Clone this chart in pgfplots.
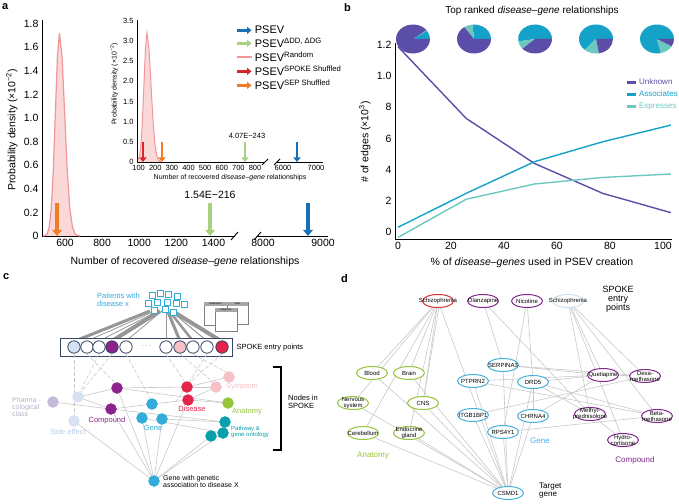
\documentclass[border=0pt]{standalone}
\usepackage{pgfplots}
\pgfplotsset{compat=1.18}
\usepackage{fontspec}
\setmainfont{Liberation Sans}
\setsansfont{Liberation Sans}
\usetikzlibrary{arrows.meta}

\definecolor{colBlue}{RGB}{26,110,178}
\definecolor{colGreen}{RGB}{166,210,126}
\definecolor{colRndLine}{RGB}{240,150,152}
\definecolor{colRndFill}{RGB}{251,216,216}
\definecolor{colRed}{RGB}{214,38,46}
\definecolor{colOrange}{RGB}{240,124,40}
\definecolor{colUnk}{RGB}{90,78,168}
\definecolor{colAssoc}{RGB}{20,162,200}
\definecolor{colExpr}{RGB}{108,200,190}
\definecolor{cCyan}{RGB}{52,172,218}
\definecolor{cPurple}{RGB}{140,34,140}
\definecolor{cRed}{RGB}{228,36,74}
\definecolor{cPink}{RGB}{246,192,198}
\definecolor{cGreen}{RGB}{150,196,60}
\definecolor{cTeal}{RGB}{8,160,170}
\definecolor{cLightBlue}{RGB}{214,226,242}
\definecolor{cLightBlueTxt}{RGB}{184,204,230}
\definecolor{cLav}{RGB}{196,186,218}
\definecolor{cNavy}{RGB}{55,70,100}
\definecolor{edgegray}{RGB}{200,200,200}
\definecolor{fangray}{RGB}{150,150,150}
\definecolor{dGreen}{RGB}{150,196,60}
\definecolor{dCyan}{RGB}{70,178,218}
\definecolor{dPurple}{RGB}{128,40,140}
\definecolor{dRed}{RGB}{222,50,50}
\definecolor{dLight}{RGB}{205,225,240}

\newcommand{\fs}[1]{\fontsize{#1}{#1}\selectfont}
\pgfdeclareplotmark{ell}{%
  \pgfpathellipse{\pgfpointorigin}{\pgfqpoint{15.5pt}{0pt}}{\pgfqpoint{0pt}{6.5pt}}%
  \pgfusepathqfillstroke}

\tikzset{
  bigarr/.style={line width=3.6pt,-{Triangle[length=6pt,width=9.5pt]}},
  smallarr/.style={line width=2.6pt,-{Triangle[length=4.5pt,width=7pt]}},
  edged/.style={edgegray, dash pattern=on 4pt off 2pt},
}
\pgfplotsset{
  panel/.style={scale only axis, anchor=south west, clip=false,
    axis x line=bottom, axis y line=left,
    every outer x axis line/.append style={-},
    every outer y axis line/.append style={-},
    axis line style={line width=0.9pt},
    major tick length=0pt,
    /pgf/number format/assume math mode=true,
    /pgf/number format/1000 sep={},
    tick label style={font=\fs{10.5}}},
  overlay/.style={at={(0pt,0pt)}, anchor=south west, scale only axis,
    width=679pt, height=503pt, xmin=0, xmax=679, ymin=0, ymax=503,
    y dir=reverse, hide axis, clip=false},
}
% one edge of a network diagram
\newcommand{\segm}[5][edgegray]{\addplot[#1, line width=0.6pt] coordinates {(#2,#3)(#4,#5)};}
% name inside a panel-d node
\newcommand{\dn}[3]{\node[font=\fs{6}, align=center, inner sep=0pt] at (#1,#2) {#3};}
% pie: cyan 0..#3, teal #3..#4, purple #4..360
\newcommand{\pie}[4]{%
  \fill[colAssoc] (axis cs:#1,#2) -- ++(0:17pt and 14.5pt) arc[start angle=0,end angle=#3,x radius=17pt,y radius=14.5pt] -- cycle;
  \fill[colExpr] (axis cs:#1,#2) -- ++(#3:17pt and 14.5pt) arc[start angle=#3,end angle=#4,x radius=17pt,y radius=14.5pt] -- cycle;
  \fill[colUnk] (axis cs:#1,#2) -- ++(#4:17pt and 14.5pt) arc[start angle=#4,end angle=360,x radius=17pt,y radius=14.5pt] -- cycle;}

\begin{document}
\begin{tikzpicture}
\path[use as bounding box] (0pt,0pt) rectangle (679pt,503pt);

%% ---------- panel a, main axis (left part)
\begin{axis}[panel, at={(42pt,267pt)}, width=193pt, height=216pt,
  xmin=476, xmax=1516, ymin=0, ymax=1.83,
  xtick={600,800,1000,1200,1400},
  ytick={0,0.2,0.4,0.6,0.8,1,1.2,1.4,1.6,1.8},
  yticklabels={0,0.2,0.4,0.6,0.8,1.0,1.2,1.4,1.6,1.8}]
\addplot[fill=colRndFill, draw=none] coordinates {
  (482,0)(493,0.004)(504,0.019)(515,0.076)(526,0.233)(537,0.558)(548,1.043)(559,1.518)(570,1.72)
  (584,1.518)(598,1.043)(612,0.558)(626,0.233)(640,0.076)(654,0.019)(668,0.004)(682,0)} \closedcycle;
\addplot[colRndLine, line width=1.2pt] coordinates {
  (482,0)(493,0.004)(504,0.019)(515,0.076)(526,0.233)(537,0.558)(548,1.043)(559,1.518)(570,1.72)
  (584,1.518)(598,1.043)(612,0.558)(626,0.233)(640,0.076)(654,0.019)(668,0.004)(682,0)};
\addplot[colOrange, bigarr] coordinates {(557,0.28)(557,0)};
\addplot[colGreen, bigarr] coordinates {(1382,0.28)(1382,0)};
\end{axis}

%% ---------- panel a, main axis (right part)
\begin{axis}[panel, axis y line=none, at={(257pt,267pt)}, width=71pt, height=216pt,
  xmin=7900, xmax=9083, ymin=0, ymax=1.83, xtick={8000,9000}]
\addplot[colBlue, bigarr] coordinates {(8750,0.28)(8750,0)};
\end{axis}

%% ---------- panel a, inset (left part) + legend
\begin{axis}[panel, at={(137pt,341pt)}, width=128pt, height=142pt,
  xmin=90, xmax=860, ymin=0, ymax=3.52,
  xtick={100,200,300,400,500,600,700,800},
  ytick={0,0.5,1,1.5,2,2.5,3,3.5},
  yticklabels={0,0.5,1.0,1.5,2.0,2.5,3.0,3.5},
  tick label style={font=\fs{7.5}},
  legend style={at={(0.766,0.975)}, anchor=north west, draw=none, fill=none,
    font=\fs{11}, inner sep=0pt, row sep=-1pt, cells={anchor=west}},
  legend image code/.code={\draw[#1] (0pt,0pt) -- (15pt,0pt);}]
\addplot[fill=colRndFill, draw=none, forget plot] coordinates {
  (96,0.035)(105,0.14)(114,0.433)(123,1.039)(132,1.941)(141,2.824)(150,3.2)
  (162,2.824)(174,1.941)(186,1.039)(198,0.433)(210,0.14)(222,0.035)(234,0.007)} \closedcycle;
\addplot[colRndLine, line width=1pt, forget plot] coordinates {
  (96,0.035)(105,0.14)(114,0.433)(123,1.039)(132,1.941)(141,2.824)(150,3.2)
  (162,2.824)(174,1.941)(186,1.039)(198,0.433)(210,0.14)(222,0.035)(234,0.007)};
\addplot[colRed, smallarr, forget plot] coordinates {(126,0.5)(126,0)};
\addplot[colOrange, smallarr, forget plot] coordinates {(240,0.5)(240,0)};
\addplot[colGreen, smallarr, forget plot] coordinates {(740,0.5)(740,0)};
\addlegendimage{colBlue, smallarr}
\addlegendentry{PSEV}
\addlegendimage{colGreen, smallarr}
\addlegendentry{PSEV\textsuperscript{ΔDD, ΔDG}}
\addlegendimage{colRndLine, line width=2pt}
\addlegendentry{PSEV\textsuperscript{Random}}
\addlegendimage{colRed, smallarr}
\addlegendentry{PSEV\textsuperscript{SPOKE Shuffled}}
\addlegendimage{colOrange, smallarr}
\addlegendentry{PSEV\textsuperscript{SEP Shuffled}}
\end{axis}

%% ---------- panel a, inset (right part)
\begin{axis}[panel, axis y line=none, at={(277pt,341pt)}, width=46pt, height=142pt,
  xmin=5818, xmax=7212, ymin=0, ymax=3.52, xtick={6000,7000},
  tick label style={font=\fs{7.5}}]
\addplot[colBlue, smallarr] coordinates {(6424,0.5)(6424,0)};
\end{axis}

%% ---------- panel b
\begin{axis}[panel, at={(395pt,264pt)}, width=277pt, height=196pt,
  xmin=-1.1, xmax=103.4, ymin=-0.45, ymax=12.13,
  xtick={0,20,40,60,80,100}, ytick={0,2,4,6,8,10,12},
  yticklabels={0,2,4,6,8,1.0,1.2},
  legend style={at={(0.83,0.827)}, anchor=north west, draw=none, fill=none,
    font=\fs{8}, inner sep=0pt, row sep=0.5pt, cells={anchor=west}},
  legend image code/.code={\draw[#1, line width=3pt] (0pt,0pt) -- (9pt,0pt);}]
\addplot[colUnk, line width=1.4pt] coordinates {(0,11.9)(25.75,7.29)(51.5,4.4)(77.25,2.48)(103,1.24)};
\addlegendentry{\textcolor{colUnk}{Unknown}}
\addplot[colAssoc, line width=1.4pt] coordinates {(0,0.3)(25.75,2.48)(51.5,4.51)(77.25,5.79)(103,6.86)};
\addlegendentry{\textcolor{colAssoc}{Associates}}
\addplot[colExpr, line width=1.4pt] coordinates {(0,-0.35)(25.75,2.1)(51.5,3.08)(77.25,3.5)(103,3.72)};
\addlegendentry{\textcolor{colExpr}{Expresses}}
\end{axis}

%% ---------- overlay in pixel coordinates: labels, pies, panels c and d
\begin{axis}[overlay]
% panel letters
\node[anchor=north west, font=\bfseries\fs{11}, inner sep=0pt] at (2,3) {a};
\node[anchor=north west, font=\bfseries\fs{11}, inner sep=0pt] at (344,3) {b};
\node[anchor=north west, font=\bfseries\fs{11}, inner sep=0pt] at (3,273) {c};
\node[anchor=north west, font=\bfseries\fs{11}, inner sep=0pt] at (341,274) {d};

% panel a texts
\node[rotate=90, font=\fs{10.5}] at (12,130) {Probability density (×10\textsuperscript{−2})};
\node[font=\fs{10.5}] at (185,262) {Number of recovered \textit{disease–gene} relationships};
\node[rotate=90, font=\fs{7}] at (114,84) {Probability density (×10\textsuperscript{−2})};
\node[font=\fs{7}] at (230,178) {Number of recovered \textit{disease–gene} relationships};
\node[font=\fs{10.5}] at (210,195) {1.54E−216};
\node[font=\fs{7.5}] at (247,136) {4.07E−243};
% axis breaks
\draw[line width=0.9pt] (231,240) -- (238,232);
\draw[line width=0.9pt] (254,240) -- (261,232);
\draw[line width=0.8pt] (262,165) -- (268,159);
\draw[line width=0.8pt] (274,165) -- (280,159);

% panel b texts and pies
\node[font=\fs{10}] at (532,11) {Top ranked \textit{disease–gene} relationships};
\node[rotate=90, font=\fs{10.5}] at (365,142) {\# of edges (×10\textsuperscript{3})};
\node[font=\fs{10.5}] at (532,263) {\% of \textit{disease–genes} used in PSEV creation};
\pie{413}{39}{35}{38}
\pie{474}{39}{95}{125}
\pie{535}{39}{190}{222}
\pie{596}{39}{228}{280}
\pie{657}{39}{283}{330}

%% ----- panel c
% patients -> entry points
\addplot[fangray, line width=3pt] coordinates {(150,311)(75,341)};
\addplot[fangray, line width=0.8pt] coordinates {(155,311)(87,341)};
\addplot[fangray, line width=0.8pt] coordinates {(158,311)(99,341)};
\addplot[fangray, line width=4pt] coordinates {(160,311)(112,341)};
\addplot[fangray, line width=0.8pt] coordinates {(162,311)(126,341)};
\addplot[fangray, line width=0.8pt] coordinates {(166,312)(166,341)};
\addplot[fangray, line width=3pt] coordinates {(168,312)(180,341)};
\addplot[fangray, line width=2.5pt] coordinates {(170,312)(193,341)};
\addplot[fangray, line width=1pt] coordinates {(172,312)(207,341)};
\addplot[fangray, line width=4pt] coordinates {(174,312)(221,341)};
\addplot[only marks, mark=square*, mark size=3pt, mark options={draw=cCyan, fill=white, line width=0.8pt}]
  coordinates {(152,295)(160,293)(168,294)(177,296)(148,303)(157,302)(167,302)(176,303)(184,304)(154,310)(165,309)(173,312)};
% record icons
\draw[gray, line width=1pt, fill=white] (204,302) rectangle (227,325);
\fill[gray!70] (204,302) rectangle (227,306);
\node[font=\fs{2.5}] at (215.5,304) {Medication};
\draw[gray, line width=1pt, fill=white] (227,302) rectangle (248,324);
\fill[gray!70] (227,302) rectangle (248,306);
\node[font=\fs{2.5}] at (237.5,304) {Labs};
\draw[gray, line width=1pt, fill=white] (215,308) rectangle (237,331);
\fill[gray!70] (215,308) rectangle (237,312);
\node[font=\fs{2.5}] at (226,310) {Diagnosis};
% entry bar
\draw[cNavy, line width=0.8pt, fill=white] (60,338) rectangle (232,356);
\addplot[only marks, mark=*, mark size=6.2pt, mark options={draw=cNavy, fill=white, line width=0.8pt}]
  coordinates {(87,347)(99,347)(126,347)(166,347)(193,347)(207,347)};
\addplot[only marks, mark=*, mark size=6.2pt, mark options={draw=cNavy, fill=cLightBlue, line width=0.8pt}] coordinates {(74,347)};
\addplot[only marks, mark=*, mark size=6.2pt, mark options={draw=cNavy, fill=cPurple, line width=0.8pt}] coordinates {(112,347)};
\addplot[only marks, mark=*, mark size=6.2pt, mark options={draw=cNavy, fill=cPink, line width=0.8pt}] coordinates {(180,347)};
\addplot[only marks, mark=*, mark size=6.2pt, mark options={draw=cNavy, fill=cRed, line width=0.8pt}] coordinates {(222,347)};
\node[anchor=west, font=\fs{7.5}] at (233,348) {SPOKE entry points};
% dashed links from entry points
\segm[edged]{74}{354}{74}{415}
\segm[edged]{87}{354}{115}{383}
\segm[edged]{112}{354}{81}{392}
\segm[edged]{99}{354}{80}{392}
\segm[edged]{126}{354}{150}{398}
\segm[edged]{166}{354}{185}{382}
\segm[edged]{180}{354}{213}{382}
\segm[edged]{193}{354}{226}{372}
\segm[edged]{207}{354}{176}{402}
\segm[edged]{222}{354}{190}{382}
% solid links between SPOKE nodes
\segm{53}{402}{111}{409}
\segm{78}{397}{117}{388}
\segm{78}{397}{111}{409}
\segm{117}{388}{187}{387}
\segm{117}{388}{228}{403}
\segm{111}{409}{152}{404}
\segm{111}{409}{225}{422}
\segm{152}{404}{188}{400}
\segm{162}{419}{225}{422}
\segm{142}{418}{223}{433}
\segm{187}{387}{216}{387}
\segm{187}{387}{229}{377}
\segm{188}{400}{228}{403}
\segm{188}{400}{216}{387}
\segm{154}{481}{74}{421}
\segm{154}{481}{117}{388}
\segm{154}{481}{111}{409}
\segm{154}{481}{142}{418}
\segm{154}{481}{162}{419}
\segm{154}{481}{211}{436}
\segm{154}{481}{223}{433}
\segm{154}{481}{188}{400}
% SPOKE nodes
\addplot[only marks, mark=*, mark size=5.5pt, cLav] coordinates {(53,402)};
\addplot[only marks, mark=*, mark size=5.5pt, cLightBlue] coordinates {(78,397)(74,421)};
\addplot[only marks, mark=*, mark size=5.5pt, cPurple] coordinates {(117,388)(111,409)};
\addplot[only marks, mark=*, mark size=5.5pt, cCyan] coordinates {(152,404)(142,418)(162,419)(154,481)};
\addplot[only marks, mark=*, mark size=5.5pt, cRed] coordinates {(187,387)(188,400)};
\addplot[only marks, mark=*, mark size=5.5pt, cPink] coordinates {(229,377)(216,387)};
\addplot[only marks, mark=*, mark size=5.5pt, cGreen] coordinates {(228,403)};
\addplot[only marks, mark=*, mark size=5.5pt, cTeal] coordinates {(225,422)(223,433)(211,436)};
% panel c labels
\node[anchor=west, align=left, font=\fs{7.5}, text=cCyan, inner sep=0pt] at (97,300) {Patients with\\disease x};
\node[anchor=west, align=left, font=\fs{7}, text=cLav!80!gray, inner sep=0pt] at (12,407) {Pharma -\\cological\\class};
\node[font=\fs{7.5}, text=cLightBlueTxt] at (68,432) {Side effect};
\node[font=\fs{7.5}, text=cPurple] at (107,421) {Compound};
\node[font=\fs{7.5}, text=cCyan] at (153,428) {Gene};
\node[font=\fs{7.5}, text=cRed] at (192,409) {Disease};
\node[font=\fs{7.5}, text=cPink] at (242,387) {Symptom};
\node[font=\fs{7.5}, text=cGreen] at (247,412) {Anatomy};
\node[anchor=west, align=left, font=\fs{6}, text=cTeal, inner sep=0pt] at (231,432) {Pathway \&\\gene ontology};
\node[anchor=west, align=left, font=\fs{7}, inner sep=0pt] at (163,481) {Gene with genetic\\association to disease X};
\draw[line width=1.3pt] (273,367) -- (281,367) -- (281,450) -- (273,450);
\node[anchor=west, align=left, font=\fs{7.5}, inner sep=0pt] at (288,402) {Nodes in\\SPOKE};

%% ----- panel d
% entry points -> nodes
\segm{438}{301}{372}{373}
\segm{438}{301}{409}{373}
\segm{438}{301}{353}{403}
\segm{438}{301}{423}{403}
\segm{440}{301}{423}{403}
\segm{438}{301}{363}{433}
\segm{438}{301}{409}{433}
\segm{438}{301}{508}{493}
\segm{483}{301}{503}{365}
\segm{483}{301}{590}{414}
\segm{527}{301}{533}{382}
\segm{527}{301}{503}{432}
\segm{568}{301}{603}{375}
\segm{568}{301}{645}{376}
\segm{568}{301}{657}{416}
\segm{568}{301}{590}{414}
\segm{568}{301}{623}{440}
% anatomy and genes -> target
\segm{372}{373}{508}{493}
\segm{409}{373}{508}{493}
\segm{353}{403}{508}{493}
\segm{423}{403}{508}{493}
\segm{363}{433}{508}{493}
\segm{409}{433}{508}{493}
\segm{473}{381}{508}{493}
\segm{473}{415}{508}{493}
\segm{503}{432}{508}{493}
\segm{533}{416}{508}{493}
\segm{533}{382}{508}{493}
\segm{503}{365}{508}{493}
% genes <-> compounds
\segm{503}{365}{603}{375}
\segm{503}{365}{645}{376}
\segm{473}{381}{603}{375}
\segm{473}{381}{657}{416}
\segm{533}{382}{603}{375}
\segm{533}{382}{590}{414}
\segm{533}{382}{657}{416}
\segm{473}{415}{645}{376}
\segm{533}{416}{603}{375}
\segm{503}{432}{657}{416}
\segm{590}{414}{623}{440}
\segm{603}{375}{645}{376}
\segm{533}{382}{533}{416}
% nodes
\addplot[only marks, mark=ell, mark options={draw=dGreen, fill=white, line width=1pt}]
  coordinates {(372,373)(409,373)(353,403)(423,403)(363,433)(409,433)};
\addplot[only marks, mark=ell, mark options={draw=dCyan, fill=white, line width=1pt}]
  coordinates {(503,365)(473,381)(533,382)(473,415)(533,416)(503,432)(508,493)};
\addplot[only marks, mark=ell, mark options={draw=dPurple, fill=white, line width=1pt}]
  coordinates {(483,301)(527,301)(603,375)(645,376)(590,414)(657,416)(623,440)};
\addplot[only marks, mark=ell, mark options={draw=dRed, fill=white, line width=1pt}] coordinates {(438,301)};
\addplot[only marks, mark=ell, mark options={draw=dLight, fill=white, line width=1pt}] coordinates {(568,301)};
\node[align=center, font=\fs{9}] at (618,299) {SPOKE\\entry\\points};
\node[font=\fs{8}, text=dGreen] at (373,456) {Anatomy};
\node[font=\fs{8}, text=dCyan] at (540,441) {Gene};
\node[font=\fs{8}, text=dPurple] at (635,460) {Compound};
\node[anchor=west, align=left, font=\fs{8}, inner sep=0pt] at (539,491) {Target\\gene};
\end{axis}

%% ---------- texts that must sit on top of the node marks
\begin{axis}[overlay]
\node[font=\fs{6}] at (146,346) {$\cdots$};
\dn{438}{301}{Schizophrenia}
\dn{483}{301}{Olanzapine}
\dn{527}{301}{Nicotine}
\dn{568}{301}{Schizophrenia}
\dn{372}{373}{Blood}
\dn{409}{373}{Brain}
\dn{353}{403}{Nervous\\system}
\dn{423}{403}{CNS}
\dn{363}{433}{Cerebellum}
\dn{409}{433}{Endocrine\\gland}
\dn{503}{365}{SERPINA3}
\dn{473}{381}{PTPRN2}
\dn{533}{382}{DRD5}
\dn{473}{415}{ITGB1BP1}
\dn{533}{416}{CHRNA4}
\dn{503}{432}{RPS4Y1}
\dn{508}{493}{CSMD1}
\dn{603}{375}{Quetiapine}
\dn{645}{376}{Dexa-\\methasone}
\dn{590}{414}{Methyl-\\prednisolone}
\dn{657}{416}{Beta-\\methasone}
\dn{623}{440}{Hydro-\\cortisone}
\end{axis}
\end{tikzpicture}
\end{document}
